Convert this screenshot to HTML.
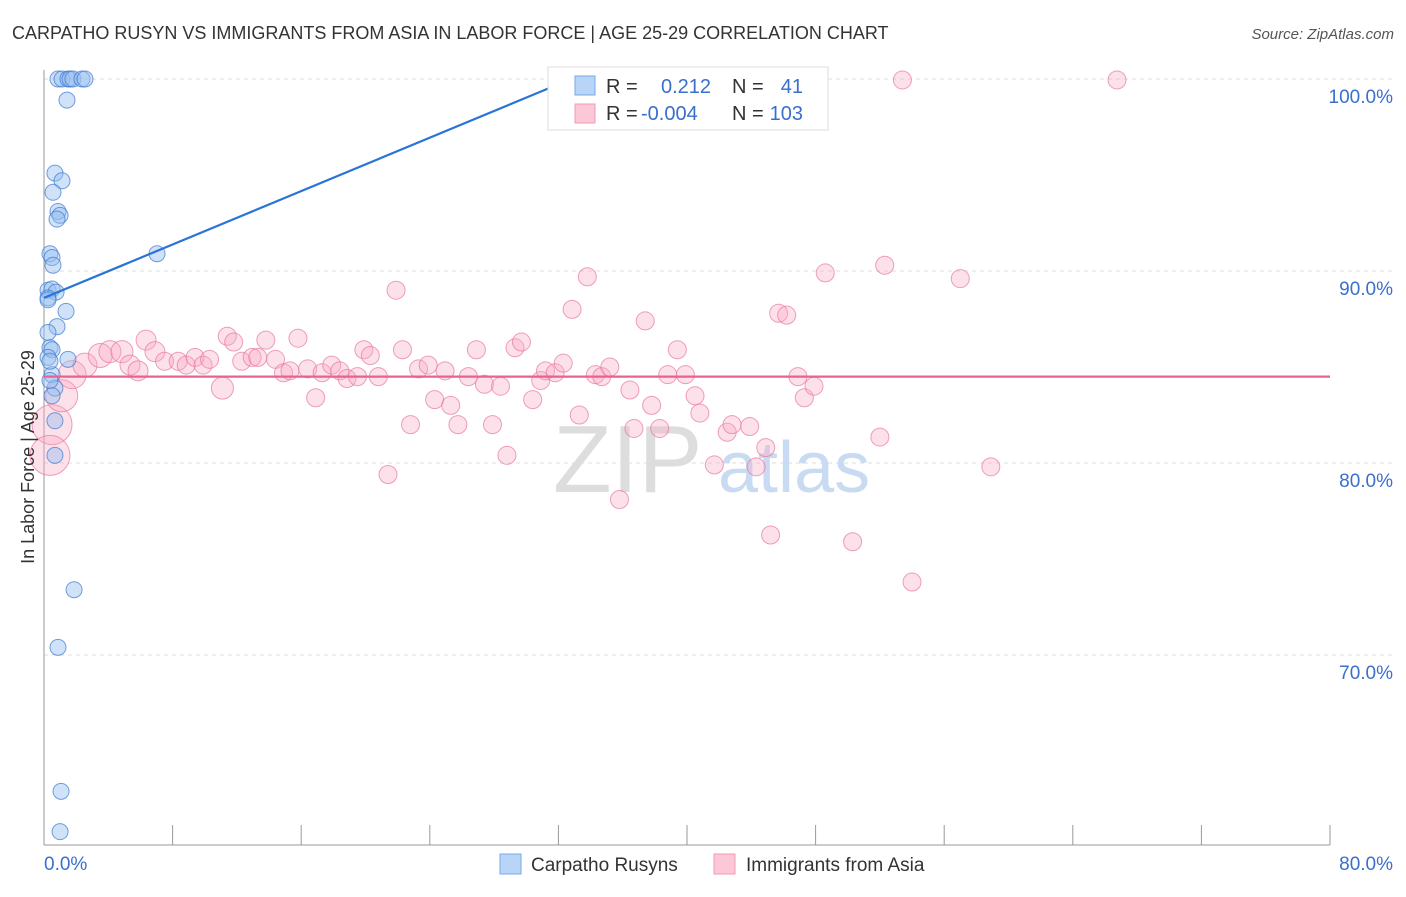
<!DOCTYPE html>
<html><head><meta charset="utf-8"><style>
body{margin:0;background:#fff;font-family:"Liberation Sans",sans-serif}
svg text{font-family:"Liberation Sans",sans-serif}
</style></head><body>
<svg id="chart" width="1406" height="892" viewBox="0 0 1406 892" xmlns="http://www.w3.org/2000/svg">
<text x="12" y="39" font-size="18" fill="#333">CARPATHO RUSYN VS IMMIGRANTS FROM ASIA IN LABOR FORCE | AGE 25-29 CORRELATION CHART</text>
<text x="1394" y="39" font-size="15" fill="#555" text-anchor="end" font-style="italic">Source: ZipAtlas.com</text>
<g id="grid"></g>
<g id="axes"></g>
<text x="553" y="492" font-size="96" fill="#ddd" font-family="Liberation Serif">ZIP</text>
<text x="718" y="492" font-size="72" fill="#c9dbf2">atlas</text>
<g id="pink"></g>
<g id="blue"></g>
<g id="lines"></g>
<text transform="translate(34,457) rotate(-90)" font-size="18" fill="#333" text-anchor="middle">In Labor Force | Age 25-29</text>
<g>
<rect x="548" y="67" width="280" height="63" fill="#fff" stroke="#ddd"/>
<rect x="575" y="76" width="20" height="19" fill="#b8d4f6" stroke="#7aaaea"/>
<rect x="575" y="104" width="20" height="19" fill="#fcc8d8" stroke="#f09ab5"/>
<text x="606" y="93" font-size="20" fill="#333">R = </text><text x="661" y="93" font-size="20" fill="#3a6fcc">0.212</text>
<text x="732" y="93" font-size="20" fill="#333">N = </text><text x="803" y="93" font-size="20" fill="#3a6fcc" text-anchor="end">41</text>
<text x="606" y="120" font-size="20" fill="#333">R = </text><text x="641" y="120" font-size="20" fill="#3a6fcc">-0.004</text>
<text x="732" y="120" font-size="20" fill="#333">N = </text><text x="803" y="120" font-size="20" fill="#3a6fcc" text-anchor="end">103</text>
</g>
<g>
<rect x="500" y="854" width="21" height="20" fill="#b8d4f6" stroke="#7aaaea"/>
<text x="531" y="871" font-size="19" fill="#333">Carpatho Rusyns</text>
<rect x="714" y="854" width="21" height="20" fill="#fcc8d8" stroke="#f09ab5"/>
<text x="746" y="871" font-size="19" fill="#333">Immigrants from Asia</text>
</g>
</svg>
<script>
const yTicks=[100,90,80,70];
const yTickLabels=["100.0%","90.0%","80.0%","70.0%"];
const xTickLabels=["0.0%","80.0%"];
const blueX=[0.87,1.12,1.49,1.62,1.8,2.36,2.55,1.43,0.68,1.12,0.56,0.87,1.0,0.81,0.37,0.5,0.56,7.03,0.25,0.5,0.75,0.25,1.37,0.81,0.25,0.37,0.5,0.25,1.49,0.5,0.68,0.68,0.68,1.87,0.87,1.06,1.0,0.37,0.37,0.25,0.5];
const blueY=[100,100,100,100,100,100,100,98.9,95.1,94.7,94.1,93.1,92.9,92.7,90.9,90.7,90.3,90.9,89.0,89.06,88.9,88.6,87.9,87.1,86.8,86.0,85.9,85.5,85.4,84.6,83.9,82.2,80.4,73.4,70.4,62.9,60.8,85.3,84.3,88.5,83.5];
const pinkX=[0.5,0.37,1.1,1.75,2.55,3.5,4.1,4.85,5.35,5.85,6.35,6.9,7.5,8.35,8.85,9.4,9.9,10.3,11.1,11.4,11.8,12.3,12.95,13.3,13.8,14.4,14.9,15.3,15.8,16.4,16.9,17.3,17.9,18.4,18.85,19.5,19.9,20.3,20.8,21.4,21.9,22.3,22.8,23.3,23.9,24.3,24.95,25.3,25.75,26.4,26.9,27.4,27.9,28.4,28.8,29.3,29.7,30.4,30.9,31.2,31.8,32.3,32.85,33.3,33.8,34.3,34.7,35.2,35.8,36.45,36.7,37.4,37.8,38.3,38.8,39.4,39.9,40.5,40.8,41.7,42.5,42.8,43.9,44.3,44.9,45.2,45.7,46.2,46.9,47.3,47.9,48.6,50.3,52.0,52.3,53.4,54.0,57.0,58.9,66.75];
const pinkY=[82.0,80.4,83.5,84.6,85.1,85.6,85.8,85.8,85.1,84.8,86.4,85.8,85.3,85.3,85.1,85.5,85.1,85.4,83.9,86.6,86.3,85.3,85.5,85.5,86.4,85.4,84.7,84.8,86.5,84.9,83.4,84.7,85.1,84.8,84.4,84.5,85.9,85.6,84.5,79.4,89.0,85.9,82.0,84.9,85.1,83.3,84.8,83.0,82.0,84.5,85.9,84.1,82.0,84.0,80.4,86.0,86.3,83.3,84.3,84.8,84.7,85.2,88.0,82.5,89.7,84.6,84.5,85.0,78.1,83.8,81.8,87.4,83.0,81.8,84.6,85.9,84.6,83.5,82.6,79.9,81.6,82.0,81.9,79.8,80.8,76.25,87.8,87.7,84.5,83.4,84.0,89.9,75.9,81.35,90.3,99.95,73.8,89.6,79.8,99.95];
const pinkSize=[20,20,16,14,12,12,11,11,10,10,10,10,9,9,9,9,9,9,11];
const blueTrend=[88.6,0.212];
const pinkTrend=84.5;
const NS="http://www.w3.org/2000/svg";
const X=v=>44+v*16.075, Y=v=>79+(100-v)*19.2;
function mk(tag,attrs,parent){const e=document.createElementNS(NS,tag);for(const k in attrs)e.setAttribute(k,attrs[k]);document.getElementById(parent).appendChild(e);return e;}
yTicks.forEach((t,i)=>{
 const l=mk('line',{x1:44,x2:1394,y1:Y(t),y2:Y(t),stroke:'#ddd','stroke-dasharray':'4,4'},'grid');
 
 
 const tx=mk('text',{x:1393,y:Y(t)+24,'font-size':19,fill:'#3a6fcc','text-anchor':'end'},'axes');
 tx.textContent=yTickLabels[i];
 
 
});
const a1=mk('line',{x1:44,x2:44,y1:70,y2:845,stroke:'#999'},'axes');


const a2=mk('line',{x1:44,x2:1330,y1:845,y2:845,stroke:'#999'},'axes');


for(let i=0;i<=10;i++){const t=mk('line',{x1:44+i*128.6,x2:44+i*128.6,y1:825,y2:845,stroke:'#999'},'axes');
 
 }
[[0,44,'start'],[80,1393,'end']].forEach((d,i)=>{const t=mk('text',{x:d[1],y:870,'font-size':19,fill:'#3a6fcc','text-anchor':d[2]},'axes');t.textContent=xTickLabels[i];
 
 });
pinkX.forEach((v,i)=>{const c=mk('circle',{cx:X(v),cy:Y(pinkY[i]),r:pinkSize[i]||9,fill:'rgba(248,170,195,0.35)',stroke:'rgba(232,120,155,0.7)','stroke-width':1},'pink');
 
 });
blueX.forEach((v,i)=>{const c=mk('circle',{cx:X(v),cy:Y(blueY[i]),r:8,fill:'rgba(150,190,240,0.45)',stroke:'rgba(60,120,210,0.7)','stroke-width':1},'blue');
 
 });
const xEnd=(100-blueTrend[0])/blueTrend[1]/ (100/ (100*1))* (1);
const bx2=Math.min((100-blueTrend[0])/(blueTrend[1]*1.64),80);
const bl=mk('line',{x1:X(0),y1:Y(blueTrend[0]),x2:X(bx2),y2:Y(blueTrend[0]+blueTrend[1]*1.64*bx2),stroke:'#2a74d6','stroke-width':2.2},'lines');


const pl=mk('line',{x1:X(0),y1:Y(pinkTrend),x2:X(80),y2:Y(pinkTrend),stroke:'#e8628f','stroke-width':2.2},'lines');


</script>
</body></html>
